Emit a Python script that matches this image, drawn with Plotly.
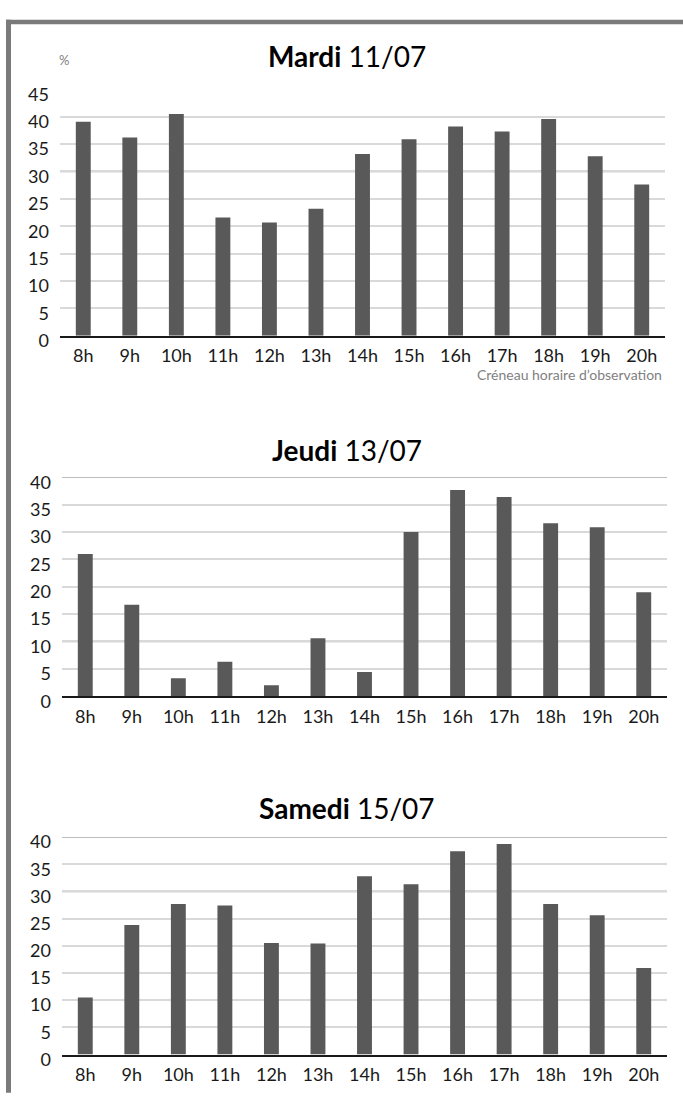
import plotly.graph_objects as go

W, H = 683, 1097

hours = ["8h", "9h", "10h", "11h", "12h", "13h", "14h", "15h", "16h", "17h", "18h", "19h", "20h"]

mardi = [39.1, 36.2, 40.5, 21.6, 20.7, 23.2, 33.2, 35.9, 38.2, 37.3, 39.6, 32.8, 27.6]
jeudi = [26.0, 16.7, 3.3, 6.3, 2.0, 10.6, 4.4, 30.0, 37.7, 36.4, 31.6, 30.9, 19.0]
samedi = [10.5, 23.8, 27.7, 27.4, 20.5, 20.4, 32.8, 31.3, 37.4, 38.7, 27.7, 25.6, 15.9]

titles = ["<b>Mardi</b> 11/07", "<b>Jeudi</b> 13/07", "<b>Samedi</b> 15/07"]
series = [mardi, jeudi, samedi]
ymax = [45, 40, 40]

# panel pixel boxes: (left, right, top, bottom)
boxes = [(60, 665, 84, 335.5), (62, 667, 480, 703.3), (62, 667, 847, 1069)]
title_y = [50, 452, 817]

FONT = "Lato"
BAR = "#595959"
MAJOR = "#a6a6a6"
MINOR = "#d9d9d9"

def px_x(x):
    return x / W

def px_y(y):
    return 1 - y / H

fig = go.Figure()
shapes = []
annotations = []

for i, (vals, box, top) in enumerate(zip(series, boxes, ymax)):
    n = "" if i == 0 else str(i + 1)
    l, r, t, b = box
    fig.add_trace(go.Bar(x=hours, y=vals, marker_color=BAR, marker_line_width=0,
                         xaxis="x" + n, yaxis="y" + n, showlegend=False,
                         hoverinfo="x+y"))
    fig.update_layout(**{
        "xaxis" + n: dict(domain=[px_x(l), px_x(r)], anchor="y" + n,
                          type="category", range=[-0.5, len(hours) - 0.5],
                          showline=True, linecolor="#1a1a1a", linewidth=2,
                          showgrid=False, ticks="", zeroline=False,
                          ticklabelstandoff=3,
                          tickfont=dict(family=FONT, size=18, color="#1a1a1a"),
                          fixedrange=True),
        "yaxis" + n: dict(domain=[px_y(b), px_y(t)], anchor="x" + n,
                          range=[0, top], tickmode="linear", tick0=0, dtick=5,
                          showgrid=True, gridcolor=MINOR, gridwidth=1.5,
                          zeroline=False, showline=False, ticks="",
                          ticklabelstandoff=10, ticklabelshift=5,
                          tickfont=dict(family=FONT, size=18, color="#1a1a1a"),
                          fixedrange=True),
    })
    for v in range(10, top + 1, 10):
        shapes.append(dict(type="line", xref=("x" + n) + " domain", yref="y" + n,
                           x0=0, x1=1, y0=v, y1=v, layer="below",
                           line=dict(color=MAJOR, width=1.5)))
    annotations.append(dict(text=titles[i], x=px_x(347), y=px_y(title_y[i]),
                            xref="paper", yref="paper", showarrow=False,
                            xanchor="center", yanchor="middle",
                            font=dict(family=FONT, size=28, color="#000000")))

annotations.append(dict(text="%", x=px_x(57), y=px_y(54), xref="paper", yref="paper",
                        showarrow=False, xanchor="left", yanchor="middle",
                        font=dict(family=FONT, size=13, color="#808080")))
annotations.append(dict(text="Créneau horaire d’observation", x=px_x(664), y=px_y(375),
                        xref="paper", yref="paper", showarrow=False,
                        xanchor="right", yanchor="middle",
                        font=dict(family=FONT, size=14, color="#7f7f7f")))

# frame
shapes.append(dict(type="rect", xref="paper", yref="paper", x0=px_x(6), x1=1.01,
                   y0=px_y(13), y1=px_y(17.5), fillcolor="#7a7a7a", line_width=0))
shapes.append(dict(type="rect", xref="paper", yref="paper", x0=px_x(6), x1=px_x(11),
                   y0=-0.01, y1=px_y(13), fillcolor="#7a7a7a", line_width=0))

fig.update_layout(width=W, height=H, margin=dict(l=0, r=0, t=0, b=0),
                  paper_bgcolor="white", plot_bgcolor="white",
                  bargap=0.68, shapes=shapes, annotations=annotations,
                  font=dict(family=FONT))

fig.write_html("out.html", config={"displayModeBar": False},
               post_script="document.body.style.margin='0';document.body.style.padding='0';document.body.style.overflow='hidden';")
